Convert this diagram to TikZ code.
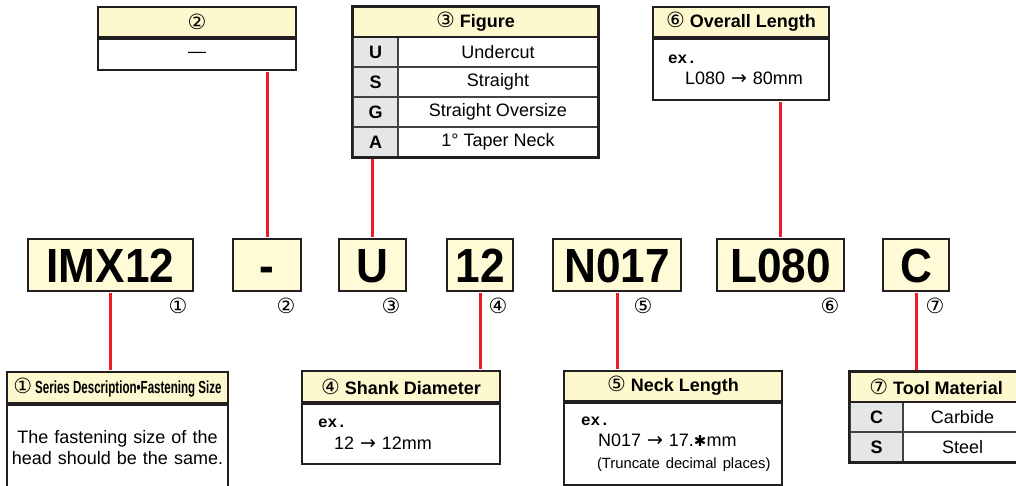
\documentclass[tikz,border=0pt]{standalone}
\usepackage{fontspec}
\setmainfont{Liberation Sans}
\setmonofont{Liberation Mono}
\newfontfamily\circfont{DejaVu Sans}
\newfontfamily\codefont[FakeStretch=0.92]{Liberation Sans}
\newfontfamily\narrowfont[FakeStretch=0.66]{Liberation Sans}
\definecolor{codeyellow}{HTML}{FFFBD6}
\definecolor{headyellow}{HTML}{FDF8CE}
\definecolor{keygray}{HTML}{E5E6E7}
\definecolor{frame}{HTML}{231F20}
\definecolor{linkred}{HTML}{ED1C24}
\newcommand{\cn}[1]{{\circfont\mdseries\fontsize{21}{22}\selectfont #1}}
\newcommand{\arr}{{\circfont\mdseries\fontsize{19}{22}\selectfont →}}
\newcommand{\exmark}{{\ttfamily\bfseries\fontsize{16}{20}\selectfont ex.}}

\begin{document}
\begin{tikzpicture}[x=1pt,y=-1pt,
  code/.style={draw=frame,line width=2.2pt,fill=codeyellow,inner sep=0pt,
    minimum height=52pt,text height=34.4pt,text depth=0pt,
    font=\codefont\bfseries\fontsize{48}{48}\selectfont},
  head/.style={draw=frame,line width=2.2pt,fill=headyellow,inner sep=0pt,
    minimum height=30pt,font=\bfseries\fontsize{18}{22}\selectfont},
  cell/.style={draw=frame!85,line width=1.1pt,fill=white,inner sep=0pt,
    minimum height=30pt,font=\fontsize{18}{22}\selectfont},
  key/.style={cell,fill=keygray,font=\bfseries\fontsize{18}{22}\selectfont},
  note/.style={draw=frame,line width=2.2pt,fill=white,inner xsep=4pt,inner ysep=0pt,
    align=left,anchor=north,font=\fontsize{18}{21.5}\selectfont},
  num/.style={inner sep=0pt,font=\circfont\fontsize{21}{21}\selectfont},
  link/.style={draw=linkred,line width=3pt,shorten <=1.1pt,shorten >=1.1pt}]
  \useasboundingbox (0,0) rectangle (1016,485);

  % code boxes
  \node[code,minimum width=165pt] (cIMX) at (110.5,265) {IMX12};
  \node[code,minimum width=68pt] (cDash) at (267,265) {-};
  \node[code,minimum width=67pt] (cU) at (372.5,265) {U};
  \node[code,minimum width=66pt] (c12) at (480,265) {12};
  \node[code,minimum width=128pt] (cN) at (617,265) {N017};
  \node[code,minimum width=127pt] (cL) at (780.5,265) {L080};
  \node[code,minimum width=66pt] (cC) at (916,265) {C};

  \node[num] (n1) at (178,306) {①};
  \node[num] (n2) at (286,306) {②};
  \node[num] (n3) at (391,306) {③};
  \node[num] (n4) at (498,306) {④};
  \node[num] (n5) at (643,306) {⑤};
  \node[num] (n6) at (830,306) {⑥};
  \node[num] (n7) at (935,306) {⑦};

  % (2)
  \node[head,minimum width=198pt] (h2) at (197,22) {\cn{②}};
  \node[cell,draw=frame,line width=2.2pt,minimum width=198pt,minimum height=31pt,anchor=north] (b2) at (h2.south) {—};

  % (3) figure
  \foreach \k/\t [count=\i] in {U/Undercut,S/Straight,G/Straight Oversize,A/1° Taper Neck}{
    \node[key,minimum width=45pt] (k3\k) at (375.5,{22+30*\i}) {\k};
    \node[cell,minimum width=200pt] (t3\k) at (498,{22+30*\i}) {\t};
  }
  \node[head,minimum width=245pt] (h3) at (475.5,22) {\cn{③} Figure};
  \draw[frame,line width=2.2pt] (h3.north west) rectangle (t3A.south east);

  % (6) overall length
  \node[head,minimum width=176pt] (h6) at (741,22) {\cn{⑥} Overall Length};
  \node[note,text width=168pt,minimum height=61pt] (b6) at (h6.south)
    {\hspace*{11pt}\exmark\\\hspace*{28pt}L080 \arr{} 80mm};

  % (1) series
  \node[head,minimum width=221pt,minimum height=31pt] (h1) at (117.5,387.5)
    {\cn{①}\hspace{3pt}{\narrowfont\fontsize{17.5}{20}\selectfont Series Description•Fastening Size}};
  \node[note,align=center,text width=213pt,minimum height=85pt] (b1) at (h1.south)
    {The fastening size of the\\head should be the same.};

  % (4) shank
  \node[head,minimum width=198pt,minimum height=31pt] (h4) at (401,386.5) {\cn{④} Shank Diameter};
  \node[note,text width=190pt,minimum height=60pt] (b4) at (h4.south)
    {\hspace*{12pt}\exmark\\\hspace*{28pt}12 \arr{} 12mm};

  % (5) neck
  \node[head,minimum width=218pt] (h5) at (673,386) {\cn{⑤} Neck Length};
  \node[note,text width=210pt,minimum height=82pt] (b5) at (h5.south)
    {\hspace*{13pt}\exmark\\\hspace*{30pt}N017 \arr{} 17.{\circfont\fontsize{15}{18}\selectfont ✱}mm\\
     \hspace*{29pt}{\fontsize{14.8}{18}\selectfont(Truncate decimal places)}};

  % (7) material
  \foreach \k/\t [count=\i] in {C/Carbide,S/Steel}{
    \node[key,minimum width=53pt] (k7\k) at (876.5,{387+30*\i}) {\k};
    \node[cell,minimum width=119pt] (t7\k) at (962.5,{387+30*\i}) {\t};
  }
  \node[head,minimum width=172pt] (h7) at (936,387) {\cn{⑦} Tool Material};
  \draw[frame,line width=2.2pt] (h7.north west) rectangle (t7S.south east);

  % links
  \draw[link] (cDash.north) -- (cDash.north |- b2.south);
  \draw[link] (cU.north) -- (cU.north |- t3A.south);
  \draw[link] (cL.north) -- (cL.north |- b6.south);
  \draw[link] (cIMX.south) -- (cIMX.south |- h1.north);
  \draw[link] (c12.south) -- (c12.south |- h4.north);
  \draw[link] (cN.south) -- (cN.south |- h5.north);
  \draw[link] (cC.south) -- (cC.south |- h7.north);
\end{tikzpicture}
\end{document}
